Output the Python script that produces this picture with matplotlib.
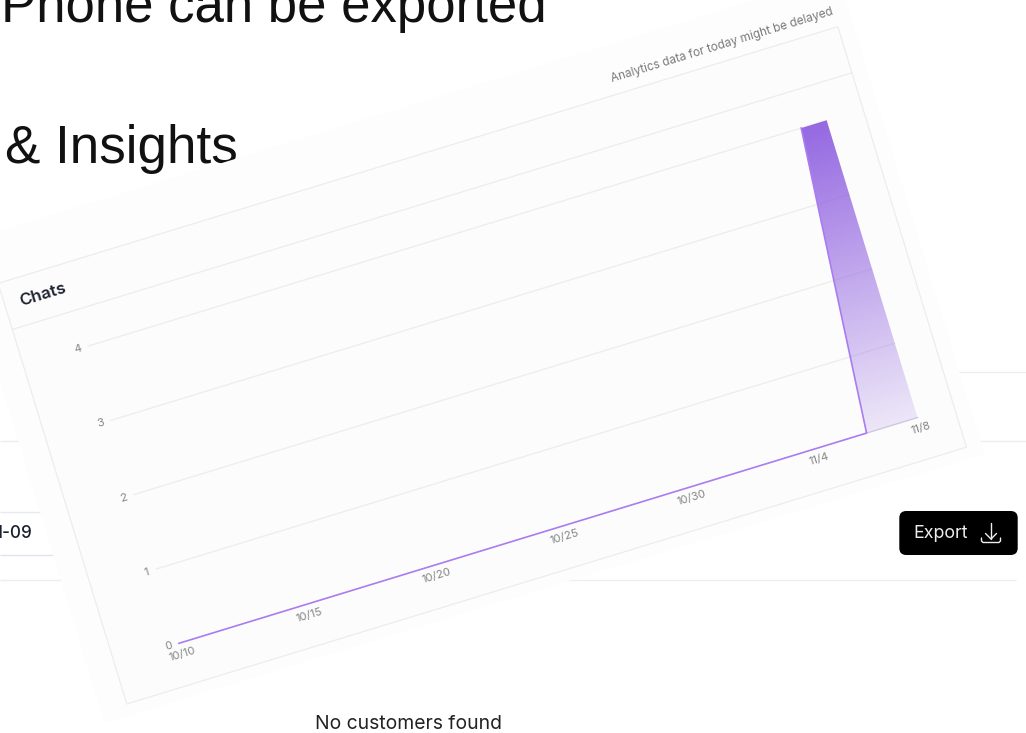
import matplotlib
matplotlib.use("Agg")
import matplotlib.pyplot as plt
import numpy as np
from matplotlib.patches import Rectangle, FancyBboxPatch, Polygon
from matplotlib.transforms import Affine2D

W, H = 1026, 733
# ---- chart data ----
days = list(range(30))
chats = [0] * 28 + [4, 4]
x_tick_pos = [0, 5, 10, 15, 20, 25, 29]
x_tick_labels = ["10/10", "10/15", "10/20", "10/25", "10/30", "11/4", "11/8"]
y_ticks = [0, 1, 2, 3, 4]
title = "Chats"
note = "Analytics data for today might be delayed"

fig = plt.figure(figsize=(W / 100, H / 100), dpi=100, facecolor="white")

# ---- slide background, in pixel coordinates ----
bg = fig.add_axes([0, 0, 1, 1], zorder=0)
bg.set_xlim(0, W)
bg.set_ylim(H, 0)
bg.axis("off")
bg.text(547, 22, "Phone can be exported", family="Liberation Sans", fontsize=38,
        ha="right", va="baseline", color="#111111")
bg.text(5, 163, "& Insights", family="Liberation Sans", fontsize=38.2,
        ha="left", va="baseline", color="#111111")
for y, x0, x1, c in [(372, 0, W, "#EDEDED"), (441, 0, W, "#EDEDED"), (512, 0, 60, "#E8EAF0"),
                     (554.5, 0, 70, "#E0E4EC"), (580, 0, 1016, "#EEEEEE")]:
    bg.plot([x0, x1], [y, y], color=c, lw=1.0, solid_capstyle="butt")
bg.text(32, 533.5, "1-09", family="Inter", fontsize=12.3, fontweight="medium",
        ha="right", va="center", color="#1A2030")
bg.text(408.5, 724, "No customers found", family="Inter", fontsize=13.9,
        ha="center", va="center", color="#222222")
bg.add_patch(FancyBboxPatch((899.3, 511), 118.4, 44, boxstyle="round,pad=0,rounding_size=7",
                            fc="black", ec="none"))
bg.text(941, 533.5, "Export", family="Inter", fontsize=12.9, ha="center", va="center", color="#EDEDED")
icon = dict(color="#EDEDED", lw=1.0, solid_capstyle="round", solid_joinstyle="round")
bg.plot([991, 991], [523, 539], **icon)
bg.plot([985.5, 991, 996.5], [533.5, 539, 533.5], **icon)
bg.plot([981.5, 981.5, 983, 999, 1000.5, 1000.5], [538, 541, 542.5, 542.5, 541, 538], **icon)

# ---- rotated card: a real axes whose drawing is turned by 17 degrees ----
ox, oy = 179.0, H - 643.3
px_day, px_val = 26.63, 77.7
ax = fig.add_axes([ox / W, oy / H, 29 * px_day / W, 4 * px_val / H], zorder=1)
ax.set_xlim(0, 29)
ax.set_ylim(0, 4)
ax.axis("off")
tf = ax.transData + Affine2D().rotate_deg_around(ox, oy, 17)
ANG = 17


def rect(x0, y0, x1, y1, **kw):
    p = Rectangle((x0, y0), x1 - x0, y1 - y0, transform=tf, clip_on=False, **kw)
    ax.add_patch(p)
    return p


rect(-3.55, -0.70, 31.0, 5.75, fc="#FDFDFD", ec="none", zorder=1)
rect(-2.54, -0.55, 30.43, 5.11, fc="#FCFCFC", ec="#EDEDED", lw=0.9, zorder=2)
ax.plot([-2.54, 30.43], [4.49, 4.49], color="#EDEDED", lw=0.9, transform=tf, clip_on=False, zorder=3)

for v in y_ticks[1:]:
    ax.plot([0, 29], [v, v], color="#EEEEEE", lw=1.0, transform=tf, clip_on=False, zorder=3)

# gradient area, clipped to the data polygon; translucent so the grid shows through
grad = np.zeros((256, 1, 4))
grad[..., :3] = np.array([143, 96, 224]) / 255
grad[..., 3] = np.linspace(0.95, 0.14, 256).reshape(256, 1)
im = ax.imshow(grad, extent=(0, 29, 0, 4), origin="upper", aspect="auto", transform=tf, zorder=4)
poly = Polygon(list(zip(days, chats)) + [(29, 0), (0, 0)], closed=True, transform=tf, fc="none", ec="none")
ax.add_patch(poly)
im.set_clip_box(fig.bbox)
im.set_clip_path(poly)
ax.set_xlim(0, 29)
ax.set_ylim(0, 4)

ax.plot([27, 29], [0, 0], color="#CFC6E0", lw=1.0, transform=tf, clip_on=False, zorder=5)
ax.plot(days[:29], chats[:29], color="#A97CF0", lw=1.2, transform=tf, clip_on=False, zorder=6)

for pos, lab in zip(x_tick_pos, x_tick_labels):
    ax.text(pos, -0.14, lab, transform=tf, rotation=ANG, rotation_mode="anchor",
            ha="center", va="center", family="Inter", fontsize=8.2, color="#858585", zorder=7, clip_on=False)
for v in y_ticks:
    ax.text(-0.39, v, str(v), transform=tf, rotation=ANG, rotation_mode="anchor",
            ha="center", va="center", family="Inter", fontsize=8.2, color="#858585", zorder=7, clip_on=False)
ax.text(-1.05, 4.80, title, transform=tf, rotation=ANG, rotation_mode="anchor",
        ha="center", va="center", family="Inter", fontsize=12.2, fontweight="semibold",
        color="#1F2433", zorder=7, clip_on=False)
ax.text(26.07, 5.32, note, transform=tf, rotation=ANG, rotation_mode="anchor",
        ha="center", va="center", family="Inter", fontsize=8.45, color="#7A7A7A", zorder=7, clip_on=False)

fig.savefig("out.png", dpi=100, facecolor="white")
